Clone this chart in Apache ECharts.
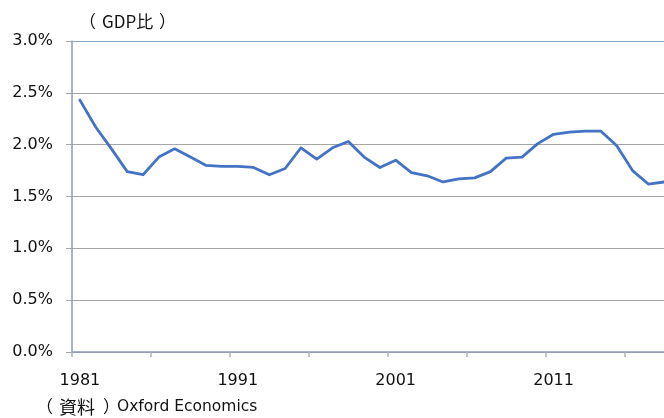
<!DOCTYPE html>
<html>
<head>
<meta charset="utf-8">
<script src="https://cdn.jsdelivr.net/npm/echarts@6/dist/echarts.min.js"></script>
<style>
  html, body { margin: 0; padding: 0; background: #fff; }
  #chart { width: 664px; height: 418px; }
</style>
</head>
<body>
<div id="chart"></div>
<script>
// Years on the category axis
const years = [];
for (let y = 1981; y <= 2018; y++) years.push(String(y));

// Share of GDP, percent
const values = [
  2.43, 2.17, 1.96, 1.74, 1.71, 1.88, 1.96, 1.88, 1.80, 1.79,
  1.79, 1.78, 1.71, 1.77, 1.97, 1.86, 1.97, 2.03, 1.88, 1.78,
  1.85, 1.73, 1.70, 1.64, 1.67, 1.68, 1.74, 1.87, 1.88, 2.01,
  2.10, 2.12, 2.13, 2.13, 1.99, 1.75, 1.62, 1.64
];

// Value axis ticks, percent
const yTicks = [0, 0.5, 1.0, 1.5, 2.0, 2.5, 3.0];

// Unit note and source note (full-width brackets set as separate pieces)
const unitLabel = 'GDP比';
const sourcePrefix = '資料';
const sourceName = 'Oxford Economics';

const FONT = 'DejaVu Sans, "Noto Sans CJK JP", sans-serif';
const CJK = 'Noto Sans CJK JP';
const TEXT = '#111111';

function piece(text, left, top, size, family) {
  return { type: 'text', left: left, top: top,
    style: { text: text, fontSize: size, fontFamily: family, fill: TEXT } };
}

const chart = echarts.init(document.getElementById('chart'), null, { renderer: 'canvas' });

chart.setOption({
  animation: false,
  backgroundColor: '#ffffff',
  graphic: [
    piece('（', 79, 13, 17, CJK),
    piece(unitLabel, 102, 13, 17, CJK),
    piece('）', 159, 13, 17, CJK),
    piece('（', 36, 398, 17, CJK),
    piece(sourcePrefix, 59, 398, 18, CJK),
    piece('）', 103, 398, 17, CJK),
    piece(sourceName, 117, 399, 15.5, FONT)
  ],
  grid: { left: 72, top: 41, width: 600, bottom: 66, containLabel: false, outerBoundsMode: 'none' },
  xAxis: {
    type: 'category',
    data: years,
    boundaryGap: true,
    axisLine: { show: true, lineStyle: { color: '#8C9BB3', width: 1.5 } },
    axisTick: { show: true, interval: 4, length: 5, lineStyle: { color: '#B0B0B0', width: 1.5 } },
    axisLabel: { interval: 9, margin: 21, color: TEXT, fontSize: 16, fontFamily: FONT },
    splitLine: { show: false }
  },
  yAxis: {
    type: 'value',
    min: yTicks[0],
    max: yTicks[yTicks.length - 1],
    interval: 0.5,
    axisLine: { show: true, lineStyle: { color: '#8C9BB3', width: 1.5 } },
    axisTick: { show: true, length: 6, lineStyle: { color: '#A6A6A6', width: 1 } },
    axisLabel: {
      margin: 19, color: TEXT, fontSize: 16, fontFamily: FONT,
      formatter: v => v.toFixed(1) + '%'
    },
    splitLine: {
      show: true,
      lineStyle: {
        color: ['#A6A6A6', '#A6A6A6', '#A6A6A6', '#A6A6A6', '#A6A6A6', '#A6A6A6', '#8FA6CC'],
        width: 1.2
      }
    }
  },
  series: [{
    type: 'line',
    data: values,
    symbol: 'none',
    lineStyle: { color: '#4472C4', width: 2.8, join: 'round', cap: 'round' },
    clip: false
  }]
});
</script>
</body>
</html>
